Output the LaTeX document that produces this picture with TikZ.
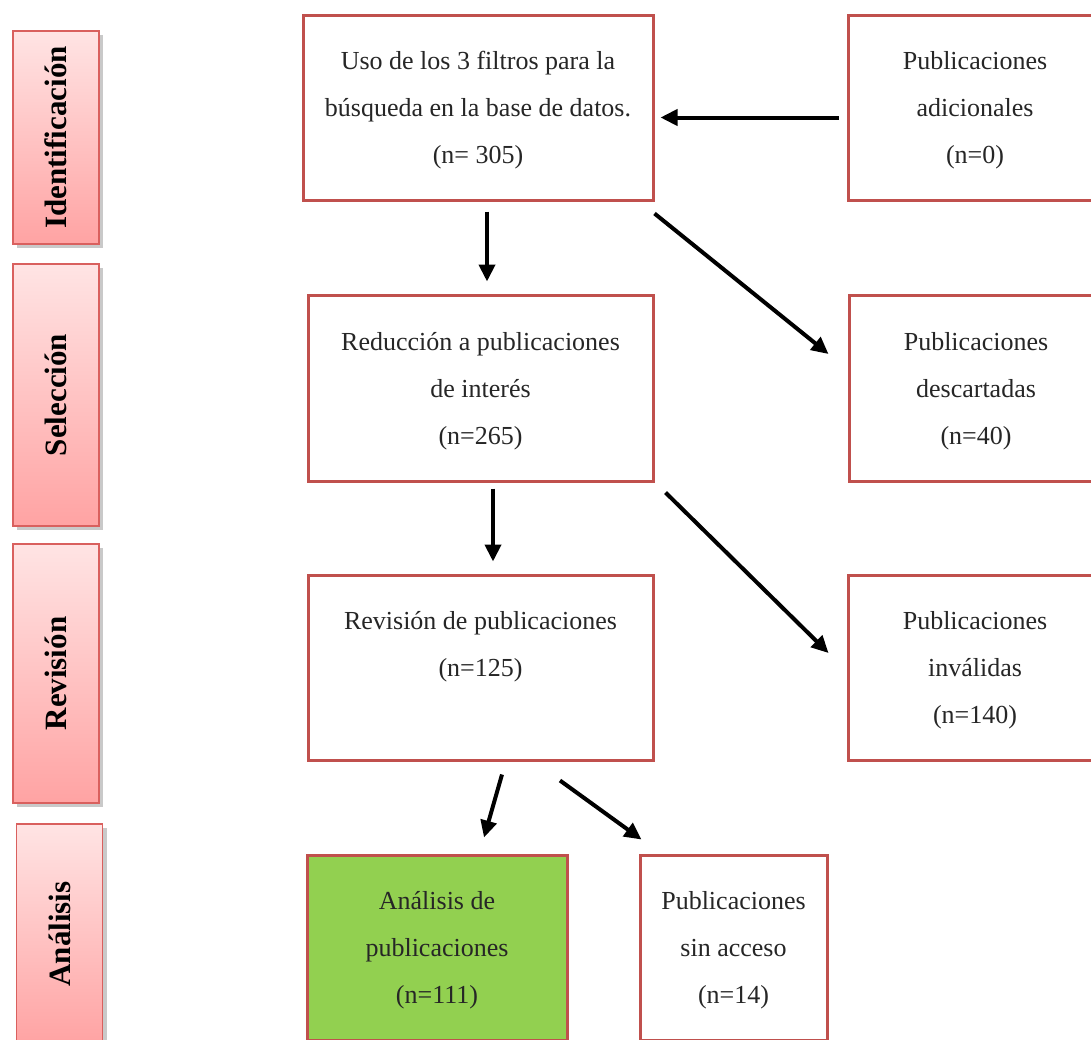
\documentclass[tikz,border=0pt]{standalone}
\usepackage{fontspec}
\setmainfont{Liberation Serif}
\usetikzlibrary{arrows.meta,calc,shadows}
\definecolor{boxred}{HTML}{C0504D}
\definecolor{phaseedge}{HTML}{D9605E}
\definecolor{phasetop}{HTML}{FFE4E4}
\definecolor{phasebot}{HTML}{FFA3A3}
\definecolor{okgreen}{HTML}{92D050}
\tikzset{
  flowbox/.style={draw=boxred, line width=3pt, fill=white, align=center,
    inner sep=0pt, text depth=0pt, font=\fontsize{26}{47}\selectfont, text=black!85},
  phasebox/.style={draw=phaseedge, line width=1.2pt, top color=phasetop,
    bottom color=phasebot, minimum width=86pt, inner sep=0pt,
    drop shadow={shadow xshift=4pt, shadow yshift=-4pt, opacity=0.35, fill=black!60},
    font=\fontsize{31}{34}\selectfont\bfseries},
  flowarrow/.style={line width=4pt, -{Triangle[length=17pt,width=16pt]}, black}
}
\begin{document}
\begin{tikzpicture}[x=1pt,y=-1pt]
\clip (0,0) rectangle (1091,1039);
\fill[white] (0,0) rectangle (1091,1039);

% phase boxes
\node[phasebox, minimum height=213pt] (p1) at (56,137.5) {\rotatebox{90}{Identificación}};
\node[phasebox, minimum height=262pt] (p2) at (56,395) {\rotatebox{90}{Selección}};
\node[phasebox, minimum height=259pt] (p3) at (56,673.5) {\rotatebox{90}{Revisión}};
\node[phasebox, minimum height=220pt] (p4) at (59.5,934) {\rotatebox{90}{Análisis}};

% main boxes
\node[flowbox, minimum width=350pt, minimum height=185pt] (b1) at (478,107.5)
  {Uso de los 3 filtros para la\\búsqueda en la base de datos.\\(n= 305)};
\node[flowbox, minimum width=345pt, minimum height=186pt] (b2) at (480.5,388)
  {Reducción a publicaciones\\de interés\\(n=265)};
\node[flowbox, minimum width=345pt, minimum height=185pt] (b3) at (480.5,667.5)
  {Revisión de publicaciones\\(n=125)\\\strut};
\node[flowbox, fill=okgreen, minimum width=260pt, minimum height=185pt] (b4) at (437,947.5)
  {Análisis de\\publicaciones\\(n=111)};
\node[flowbox, minimum width=187pt, minimum height=185pt] (b5) at (733.5,947.5)
  {Publicaciones\\sin acceso\\(n=14)};

% right boxes
\node[flowbox, minimum width=254pt, minimum height=185pt] (r1) at (975,107.5)
  {Publicaciones\\adicionales\\(n=0)};
\node[flowbox, minimum width=254pt, minimum height=186pt] (r2) at (976,388)
  {Publicaciones\\descartadas\\(n=40)};
\node[flowbox, minimum width=254pt, minimum height=185pt] (r3) at (975,667.5)
  {Publicaciones\\inválidas\\(n=140)};

% arrows
\draw[flowarrow] ($(r1.west)+(-8,10)$) -- ($(b1.east)+(6,10)$);
\draw[flowarrow] ($(b1.south)+(9,10)$) -- ($(b2.north)+(6.5,-12)$);
\draw[flowarrow] ($(b1.south east)+(0,12)$) -- ($(r2.west)+(-19,-34)$);
\draw[flowarrow] ($(b2.south)+(12.5,6)$) -- ($(b3.north)+(12.5,-12)$);
\draw[flowarrow] ($(b2.south east)+(11,10)$) -- ($(r3.west)+(-18,-14.5)$);
\draw[flowarrow] ($(b3.south)+(21.5,13)$) -- ($(b4.north)+(47,-16)$);
\draw[flowarrow] ($(b3.south)+(79.5,19)$) -- ($(b5.north west)+(3,-14)$);
\end{tikzpicture}
\end{document}
